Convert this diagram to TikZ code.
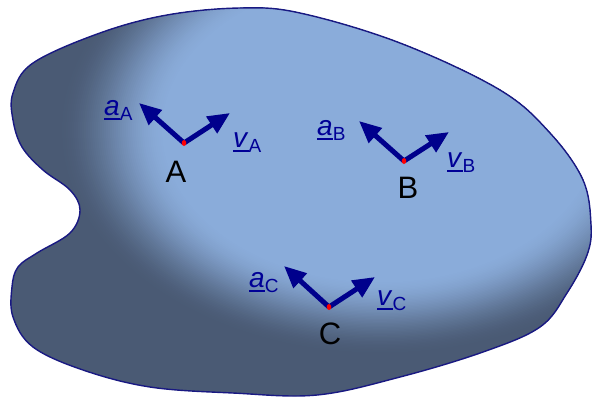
\documentclass[tikz,border=0pt]{standalone}
\usepackage{fontspec}
\setmainfont{Liberation Sans}
\usetikzlibrary{arrows.meta}
\definecolor{bdark}{RGB}{74,90,116}
\definecolor{blight}{RGB}{138,172,218}
\definecolor{edgeblue}{RGB}{25,25,130}
\definecolor{vecblue}{RGB}{0,0,140}
\definecolor{labblue}{RGB}{0,0,150}
\newsavebox\labbox
\newcommand\vlab[2]{\sbox\labbox{\fontsize{28}{28}\selectfont\textit{#1}}\rlap{\rule[-5pt]{\wd\labbox}{1.8pt}}\usebox\labbox\raisebox{-5pt}{\fontsize{19}{19}\selectfont #2}}
\begin{document}
\begin{tikzpicture}[x=1pt,y=-1pt,
  vec/.style={line width=5pt, draw=vecblue, -{Triangle[length=22pt,width=19pt]},
     preaction={draw=black, draw opacity=0.18, transform canvas={shift={(1.5pt,-1.5pt)}}}},
  lab/.style={text=labblue, anchor=base west, inner sep=0pt},
  ptlab/.style={text=black, anchor=base, inner sep=0pt, font=\fontsize{31}{31}\selectfont},
  dot/.style={fill=red, draw=none}]
\useasboundingbox (0,0) rectangle (593,397);
\fill[white] (0,0) rectangle (593,397);
\begin{scope}
\clip plot[smooth cycle, tension=0.6] coordinates {(240,8) (300,13) (400,43) (500,90) (550,133) (583,180) (591,225) (587,255) (567,293) (540,327) (483,352) (400,377) (317,395) (233,393) (150,387) (83,370) (33,347) (13,317) (12,287) (18,267) (37,253) (70,233) (80,210) (70,190) (43,170) (22,147) (13,120) (13,93) (33,63) (100,33) (167,15)};
\fill[bdark] (0,0) rectangle (593,397);
\foreach \i in {0,...,54}{
  \pgfmathsetmacro\rx{322-2*\i}
  \pgfmathsetmacro\ry{0.7*\rx}
  \pgfmathsetmacro\t{(\i+0.5)/55}
  \pgfmathsetmacro\p{100*(1-\t*\t*(3-2*\t))}
  \fill[bdark!\p!blight] (380,130) ellipse ({\rx pt} and {\ry pt});
}
\end{scope}
\draw[edgeblue, line width=1.4pt] plot[smooth cycle, tension=0.6] coordinates {(240,8) (300,13) (400,43) (500,90) (550,133) (583,180) (591,225) (587,255) (567,293) (540,327) (483,352) (400,377) (317,395) (233,393) (150,387) (83,370) (33,347) (13,317) (12,287) (18,267) (37,253) (70,233) (80,210) (70,190) (43,170) (22,147) (13,120) (13,93) (33,63) (100,33) (167,15)};
% points
\coordinate (A) at (184,143);
\coordinate (aA) at (139,103);
\coordinate (vA) at (230,113);
\coordinate (B) at (404,161);
\coordinate (aB) at (359,121);
\coordinate (vB) at (449,132);
\coordinate (C) at (329,307);
\coordinate (aC) at (284,266);
\coordinate (vC) at (375,277);
\draw[vec] (A) -- (aA);
\draw[vec] (A) -- (vA);
\draw[vec] (B) -- (aB);
\draw[vec] (B) -- (vB);
\draw[vec] (C) -- (aC);
\draw[vec] (C) -- (vC);
\fill[dot] (A) ellipse (2.3pt and 3pt);
\fill[dot] (B) ellipse (2.3pt and 3pt);
\fill[dot] (C) ellipse (2.3pt and 3pt);
% labels
\node[lab] (laA) at (104,115) {\vlab{a}{A}};
\node[lab] (lvA) at (233,147) {\vlab{v}{A}};
\node[lab] (laB) at (317,135) {\vlab{a}{B}};
\node[lab] (lvB) at (447,167) {\vlab{v}{B}};
\node[lab] (laC) at (249,287) {\vlab{a}{C}};
\node[lab] (lvC) at (377,305) {\vlab{v}{C}};
\node[ptlab] (nA) at (176,182) {A};
\node[ptlab] (nB) at (408,198) {B};
\node[ptlab] (nC) at (330,344) {C};
\end{tikzpicture}
\end{document}
